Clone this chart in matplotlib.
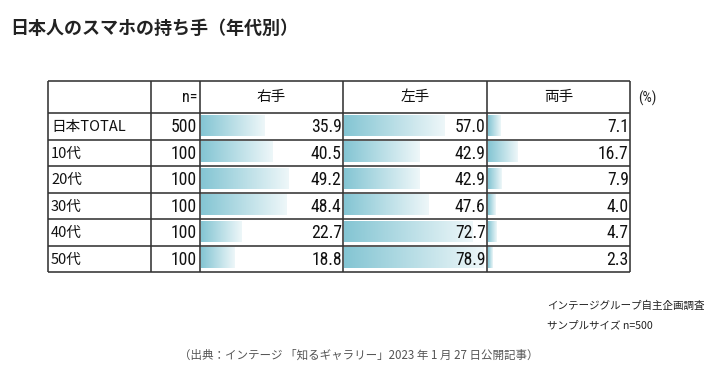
import matplotlib
matplotlib.use("Agg")
import matplotlib.pyplot as plt
import numpy as np
from matplotlib import font_manager
from matplotlib.colors import LinearSegmentedColormap

# ---- data ----
title = "日本人のスマホの持ち手（年代別）"
row_labels = ["日本TOTAL", "10代", "20代", "30代", "40代", "50代"]
n_values = [500, 100, 100, 100, 100, 100]
col_headers = ["右手", "左手", "両手"]
right_hand = [35.9, 40.5, 49.2, 48.4, 22.7, 18.8]
left_hand = [57.0, 42.9, 42.9, 47.6, 72.7, 78.9]
both_hands = [7.1, 16.7, 7.9, 4.0, 4.7, 2.3]
note_lines = ["インテージグループ自主企画調査", "サンプルサイズ n=500"]
source = "（出典：インテージ 「知るギャラリー」2023 年 1 月 27 日公開記事）"

series = [right_hand, left_hand, both_hands]

W, H = 719, 378
fig = plt.figure(figsize=(W / 100, H / 100), dpi=100)
fig.patch.set_facecolor("white")
ax = fig.add_axes([0, 0, 1, 1])
ax.set_xlim(0, W)
ax.set_ylim(H, 0)
ax.axis("off")

cjk = ["Noto Sans CJK JP", "DejaVu Sans"]


def has_font(name):
    try:
        font_manager.findfont(font_manager.FontProperties(family=name), fallback_to_default=False)
        return True
    except Exception:
        return False


num_family = ["Liberation Sans"]
num_size = 11.6
for cand in ["Liberation Sans Narrow", "Roboto Condensed", "Open Sans Condensed", "DejaVu Sans Condensed"]:
    if has_font(cand):
        num_family = [cand]
        num_size = 12.7
        break

# layout (pixels)
col_x = [48, 151, 200, 343, 487, 630]
top, header_bottom, bottom = 81, 113, 272
nrows = len(row_labels)
row_h = (bottom - header_bottom) / nrows
px_per_pct = 1.77
line_c = "#333333"
lw = 1.15

# title
ax.text(10, 28, title, fontsize=13, fontweight="bold", family=cjk, color="#222222",
        va="center", ha="left")

# grid lines
ax.hlines([top, header_bottom], col_x[0], col_x[-1], color=line_c, lw=lw)
for i in range(1, nrows + 1):
    ax.hlines(header_bottom + i * row_h, col_x[0], col_x[-1], color=line_c, lw=lw)
ax.vlines(col_x, top, bottom, color=line_c, lw=lw)

# header
hy = (top + header_bottom) / 2
ax.text(col_x[2] - 3, hy + 1, "n=", fontsize=num_size - 1, family=num_family, ha="right", va="center",
        color="#111111")
for j, h in enumerate(col_headers):
    ax.text((col_x[2 + j] + col_x[3 + j]) / 2, hy, h, fontsize=10.5, family=cjk,
            ha="center", va="center", color="#111111")
ax.text(638, hy + 1, "(%)", fontsize=10.5, family=num_family, ha="left", va="center", color="#222222")

# rows
for i, (lab, n) in enumerate(zip(row_labels, n_values)):
    cy = header_bottom + (i + 0.5) * row_h + 0.8
    ax.text(col_x[0] + 3, cy, lab, fontsize=10.5, family=cjk, ha="left", va="center", color="#111111")
    ax.text(col_x[2] - 3, cy, f"{n}", fontsize=num_size, family=num_family, ha="right", va="center",
            color="#111111")

# gradient bars in per-column axes
cmap = LinearSegmentedColormap.from_list("g", ["#84c5d3", "#eef7f9"])
grad = np.linspace(0, 1, 256).reshape(1, -1)
for j, vals in enumerate(series):
    x0 = col_x[2 + j] + 1
    x1 = col_x[3 + j]
    bax = fig.add_axes([x0 / W, 1 - bottom / H, (x1 - x0) / W, (bottom - header_bottom) / H])
    bax.axis("off")
    for i, v in enumerate(vals):
        yc = i + 0.46
        bax.imshow(grad, cmap=cmap, extent=(0, v, yc + 0.39, yc - 0.39), aspect="auto",
                   interpolation="bilinear", zorder=1)
        bax.text((x1 - x0) / px_per_pct - 1.3 / px_per_pct, i + 0.5 + 0.03, f"{v:.1f}", fontsize=num_size,
                 family=num_family, ha="right", va="center", color="#111111", zorder=3)
    bax.set_xlim(0, (x1 - x0) / px_per_pct)
    bax.set_ylim(nrows, 0)

# notes
ax.text(547, 306, note_lines[0], fontsize=7.6, family=cjk, ha="left", va="center", color="#222222")
ax.text(547, 325, note_lines[1], fontsize=7.6, family=cjk, ha="left", va="center", color="#222222")
ax.text(359, 355, source, fontsize=8.3, family=cjk, ha="center", va="center", color="#555555")

fig.savefig("out.png", dpi=100, facecolor="white")
